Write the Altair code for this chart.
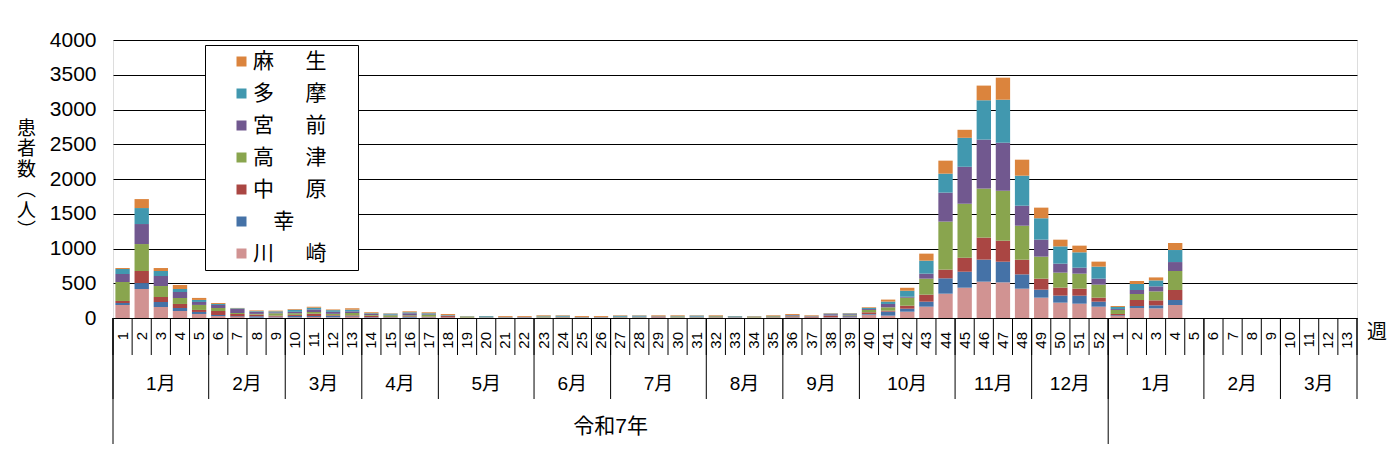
import altair as alt
import pandas as pd

# ---- data ----
week_labels = [str(i) for i in range(1, 53)] + [str(i) for i in range(1, 14)]

series = ["川崎", "幸", "中原", "高津", "宮前", "多摩", "麻生"]
colors = ["#D19392", "#4572A7", "#AA4643", "#89A54E", "#71588F", "#4198AF", "#DB843D"]
legend_labels = ["麻\u3000\u2002生\u2002\u2800", "多\u3000\u2002摩\u2002\u2800", "宮\u3000\u2002前\u2002\u2800",
                 "高\u3000\u2002津\u2002\u2800", "中\u3000\u2002原\u2002\u2800", "\u2800\u2005幸",
                 "川\u3000\u2002崎\u2002\u2800"]

kawasaki = [187, 417, 158, 101, 58, 29, 14, 5, 10, 10,
            14, 10, 14, 5, 5, 5, 5, 5, 2, 2,
            3, 2, 3, 3, 2, 3, 3, 3, 5, 3,
            3, 3, 2, 3, 3, 5, 3, 5, 10, 48,
            34, 91, 163, 350, 436, 523, 513, 422, 293, 221, 206, 163,
            29, 144, 139, 187, 0, 0, 0, 0, 0, 0, 0, 0, 0]
saiwai = [29, 86, 72, 43, 29, 14, 10, 20, 10, 20,
          14, 20, 10, 5, 5, 10, 5, 3, 2, 3,
          2, 3, 3, 3, 2, 2, 3, 5, 3, 3,
          5, 3, 3, 2, 3, 5, 3, 5, 15, 10,
          58, 43, 72, 221, 230, 317, 297, 206, 115, 101, 115, 72,
          10, 29, 43, 72, 0, 0, 0, 0, 0, 0, 0, 0, 0]
nakahara = [29, 173, 72, 58, 29, 58, 34, 24, 14, 15,
            34, 10, 14, 24, 5, 10, 10, 20, 3, 2,
            3, 3, 3, 5, 3, 2, 5, 3, 12, 3,
            3, 5, 2, 3, 5, 14, 12, 20, 5, 24,
            14, 43, 101, 125, 201, 317, 302, 211, 158, 115, 101, 58,
            19, 86, 72, 144, 0, 0, 0, 0, 0, 0, 0, 0, 0]
takatsu = [273, 388, 158, 86, 72, 43, 14, 10, 34, 24,
           24, 20, 34, 10, 24, 14, 24, 5, 14, 3,
           3, 2, 14, 5, 3, 3, 5, 5, 5, 14,
           5, 14, 3, 12, 14, 5, 5, 5, 10, 34,
           48, 115, 230, 691, 777, 705, 719, 489, 317, 216, 216, 187,
           58, 86, 129, 273, 0, 0, 0, 0, 0, 0, 0, 0, 0]
miyamae = [115, 288, 144, 86, 43, 43, 58, 30, 14, 20,
           38, 29, 24, 14, 10, 29, 10, 5, 2, 2,
           2, 3, 3, 3, 2, 3, 3, 5, 3, 3,
           5, 3, 3, 3, 3, 10, 5, 20, 14, 14,
           48, 14, 72, 417, 532, 705, 691, 288, 245, 129, 86, 86,
           14, 58, 72, 129, 0, 0, 0, 0, 0, 0, 0, 0, 0]
tama = [72, 230, 72, 43, 29, 14, 10, 10, 14, 30,
        24, 24, 24, 10, 14, 14, 14, 5, 3, 14,
        3, 3, 5, 14, 3, 2, 12, 14, 3, 5,
        14, 3, 12, 2, 3, 5, 3, 10, 12, 14,
        34, 86, 187, 273, 417, 566, 619, 432, 307, 249, 221, 173,
        29, 86, 86, 173, 0, 0, 0, 0, 0, 0, 0, 0, 0]
asao = [14, 129, 43, 58, 29, 14, 5, 10, 10, 10,
        14, 10, 20, 14, 5, 14, 14, 14, 2, 2,
        12, 12, 9, 7, 13, 13, 9, 5, 9, 9,
        5, 9, 3, 3, 9, 14, 9, 5, 5, 10,
        29, 43, 101, 187, 115, 211, 317, 230, 153, 96, 96, 72,
        14, 43, 43, 101, 0, 0, 0, 0, 0, 0, 0, 0, 0]

months_r7 = ["1月", "2月", "3月", "4月", "5月", "6月", "7月", "8月", "9月", "10月", "11月", "12月"]
month_weeks_r7 = [5, 4, 4, 4, 5, 4, 5, 4, 4, 5, 4, 4]
months_r8 = ["1月", "2月", "3月"]
month_weeks_r8 = [5, 4, 4]
year_label = "令和7年"
unit_label = "週"

# ---- tables ----
values = [kawasaki, saiwai, nakahara, takatsu, miyamae, tama, asao]
rows = []
for o, (s, vals) in enumerate(zip(series, values)):
    for i, v in enumerate(vals):
        rows.append({"idx": i, "series": s, "value": v, "ord": o})
bars = pd.DataFrame(rows)

weeks_df = pd.DataFrame({"pos": [i + 0.5 for i in range(len(week_labels))], "label": week_labels})

m_rows = []
start = 0
for m, n in zip(months_r7 + months_r8, month_weeks_r7 + month_weeks_r8):
    m_rows.append({"pos": start + n / 2, "label": m, "start": start})
    start += n
months_df = pd.DataFrame(m_rows)
n_total = len(week_labels)
n_r7 = sum(month_weeks_r7)

week_bounds = pd.DataFrame({"pos": list(range(n_total + 1))})
month_bounds = pd.DataFrame({"pos": list(months_df["start"]) + [n_total]})
year_bounds = pd.DataFrame({"pos": [0, n_r7]})
year_df = pd.DataFrame({"pos": [n_r7 / 2], "label": [year_label]})
unit_df = pd.DataFrame({"pos": [n_total], "label": [unit_label]})

H = 278
xscale = alt.Scale(domain=[0, n_total], nice=False, zero=False)
FONT = "Liberation Sans, Noto Sans CJK JP"

label_expr = " : ".join(
    f"datum.label == '{s}' ? '{l}'" for s, l in zip(series[::-1], legend_labels)
) + " : datum.label"

bar_layer = alt.Chart(bars).transform_calculate(
    x0="datum.idx + 0.125", x1="datum.idx + 0.875"
).transform_stack(
    stack="value", as_=["v0", "v1"], groupby=["idx"],
    sort=[alt.SortField("ord", order="ascending")]
).mark_bar().encode(
    x=alt.X("x0:Q", scale=xscale, axis=None),
    x2="x1:Q",
    y=alt.Y("v0:Q", scale=alt.Scale(domain=[0, 4000], nice=False),
            axis=alt.Axis(values=list(range(0, 4001, 500)), format="d", grid=True, gridColor="black",
                          gridWidth=1, gridOpacity=1, domain=False, ticks=False,
                          labelFontSize=21, labelPadding=17, labelColor="black",
                          labelFont="Liberation Sans",
                          title=["患", "者", "数", "︵", "人", "︶"], titleAngle=0,
                          titleX=-87, titleY=79, titleBaseline="top", titleAlign="center",
                          titleFontSize=19, titleFontWeight="normal", titleLineHeight=20.5,
                          titleFont="Noto Sans CJK JP", titleColor="black")),
    y2="v1:Q",
    color=alt.Color("series:N",
                    scale=alt.Scale(domain=series[::-1], range=colors[::-1]),
                    legend=alt.Legend(title=None, orient="none", legendX=92, legendY=5,
                                      symbolType="square", symbolSize=100, symbolStrokeWidth=0,
                                      symbolOffset=20, labelOffset=1,
                                      labelFontSize=21, labelFont="Noto Sans CJK JP",
                                      labelColor="black", labelExpr=label_expr,
                                      fillColor="white", strokeColor="black",
                                      padding=6, rowPadding=10, labelLimit=300)),
)

def rules(df, length):
    return alt.Chart(df).mark_rule(color="black", strokeWidth=1).encode(
        x=alt.X("pos:Q", scale=xscale, axis=None),
        y=alt.value(H),
        y2=alt.value(H + length),
    )

week_text = alt.Chart(weeks_df).mark_text(
    angle=270, align="right", baseline="middle", fontSize=15, font=FONT, color="black"
).encode(x=alt.X("pos:Q", scale=xscale, axis=None), y=alt.value(H + 14), text="label:N")

month_text = alt.Chart(months_df).mark_text(
    baseline="middle", fontSize=19, font=FONT, color="black"
).encode(x=alt.X("pos:Q", scale=xscale, axis=None), y=alt.value(H + 66), text="label:N")

year_text = alt.Chart(year_df).mark_text(
    baseline="middle", fontSize=21, font=FONT, color="black"
).encode(x=alt.X("pos:Q", scale=xscale, axis=None), y=alt.value(H + 109), text="label:N")

unit_text = alt.Chart(unit_df).mark_text(
    baseline="middle", align="center", dx=20, fontSize=20, font="Noto Sans CJK JP", color="black"
).encode(x=alt.X("pos:Q", scale=xscale, axis=None), y=alt.value(H + 15), text="label:N")

chart = alt.layer(
    bar_layer,
    rules(week_bounds, 37),
    rules(month_bounds, 81),
    rules(year_bounds, 126),
    week_text, month_text, year_text, unit_text,
).properties(
    width=1244, height=H,
    autosize=alt.AutoSizeParams(type="none"),
    padding={"left": 105, "top": 32, "right": 30, "bottom": 135},
).configure_view(
    fill="#FFFFC0", stroke="black", strokeWidth=1
).configure(background="white")

chart.save("out.html", embed_options={"renderer": "svg", "actions": False})
